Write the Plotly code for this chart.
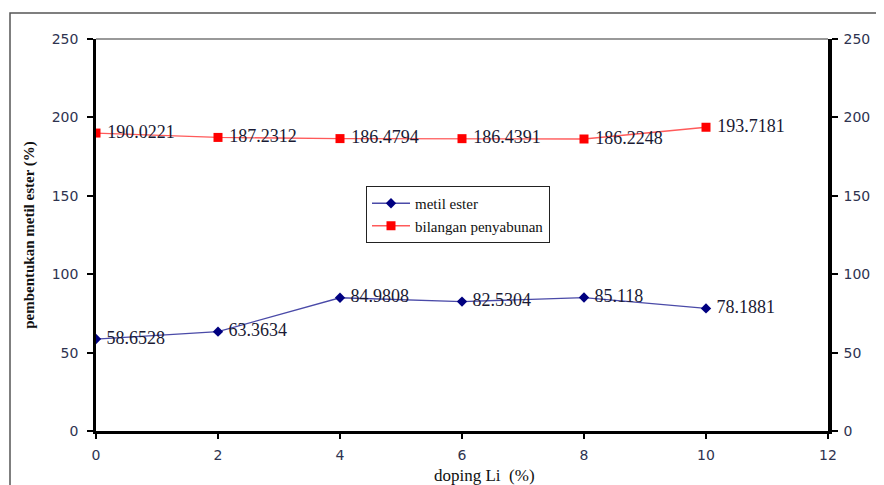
import plotly.graph_objects as go

doping = [0, 2, 4, 6, 8, 10]
metil_ester = [58.6528, 63.3634, 84.9808, 82.5304, 85.118, 78.1881]
penyabunan = [190.0221, 187.2312, 186.4794, 186.4391, 186.2248, 193.7181]
metil_labels = ["58.6528", "63.3634", "84.9808", "82.5304", "85.118", "78.1881"]
penyabunan_labels = ["190.0221", "187.2312", "186.4794", "186.4391", "186.2248", "193.7181"]

serif = "Liberation Serif, Times New Roman, serif"
tickfont = dict(family="DejaVu Sans, Verdana, sans-serif", size=14, color="#2e3350")

# page body has an 8px margin; size the figure so the plot lands where the reference has it
OFF = 8
W, H = 884 - OFF, 485 - OFF
L, T = 96 - OFF, 39 - OFF
PW, PH = 732, 392

fig = go.Figure()
fig.add_trace(go.Scatter(
    x=doping, y=metil_ester, mode="lines+markers+text", name="metil ester",
    line=dict(color="#4a4aa8", width=1.3),
    marker=dict(symbol="diamond", size=8, color="#000080"),
    text=[" " + t for t in metil_labels], textposition="middle right",
    textfont=dict(family=serif, size=18, color="#1a1a33"),
))
fig.add_trace(go.Scatter(
    x=doping, y=penyabunan, mode="lines+markers+text", name="bilangan penyabunan",
    line=dict(color="#ff5a5a", width=1.3),
    marker=dict(symbol="square", size=9, color="#ff0000"),
    text=[" " + t for t in penyabunan_labels], textposition="middle right",
    textfont=dict(family=serif, size=18, color="#1a1a33"),
    yaxis="y2",
))

fig.update_layout(
    width=W, height=H,
    margin=dict(l=L, r=W - L - PW, t=T, b=H - T - PH, autoexpand=False),
    paper_bgcolor="white", plot_bgcolor="white",
    showlegend=True,
    legend=dict(
        x=(366 - 96) / PW, y=(431 - 186) / PH, xanchor="left", yanchor="top",
        bordercolor="#222222", borderwidth=1, bgcolor="white",
        font=dict(family=serif, size=15, color="#111111"),
        tracegroupgap=0, itemwidth=38,
    ),
    xaxis=dict(
        range=[0, 12], tickvals=[0, 2, 4, 6, 8, 10, 12], showgrid=False, zeroline=False,
        showline=True, linecolor="black", linewidth=2.5, ticks="outside", ticklen=5,
        tickcolor="black", tickwidth=2, tickfont=tickfont, automargin=False,
        ticklabelstandoff=4,
    ),
    yaxis=dict(
        range=[0, 250], tickvals=[0, 50, 100, 150, 200, 250], showgrid=False, zeroline=False,
        showline=True, linecolor="black", linewidth=2.5, ticks="outside", ticklen=6,
        tickcolor="black", tickwidth=1.5, tickfont=tickfont, automargin=False,
        ticklabelstandoff=6,
        title=dict(text="<b>pembentukan metil ester (%)</b>", font=dict(family=serif, size=15, color="#111111"), standoff=14),
    ),
    yaxis2=dict(
        range=[0, 250], tickvals=[0, 50, 100, 150, 200, 250], overlaying="y", side="right",
        showgrid=False, zeroline=False, showline=True, linecolor="black", linewidth=3.5,
        ticks="outside", ticklen=6, tickcolor="black", tickwidth=1.5, tickfont=tickfont,
        automargin=False, ticklabelstandoff=3,
    ),
    annotations=[
        dict(text="doping Li  (%)", xref="paper", yref="paper",
             x=(484 - 96) / PW, y=(431 - 475) / PH, xanchor="center", yanchor="middle",
             showarrow=False, font=dict(family=serif, size=17, color="#111111")),
    ],
    shapes=[
        dict(type="line", xref="paper", yref="paper", x0=0, x1=1, y0=1, y1=1,
             line=dict(color="#777777", width=1.5)),
        dict(type="rect", xref="paper", yref="paper",
             x0=(10 - 96) / PW, x1=1.2, y0=-0.3, y1=(431 - 13) / PH,
             line=dict(color="#555555", width=1.5), layer="below"),
    ],
)

fig.write_html("out.html")
